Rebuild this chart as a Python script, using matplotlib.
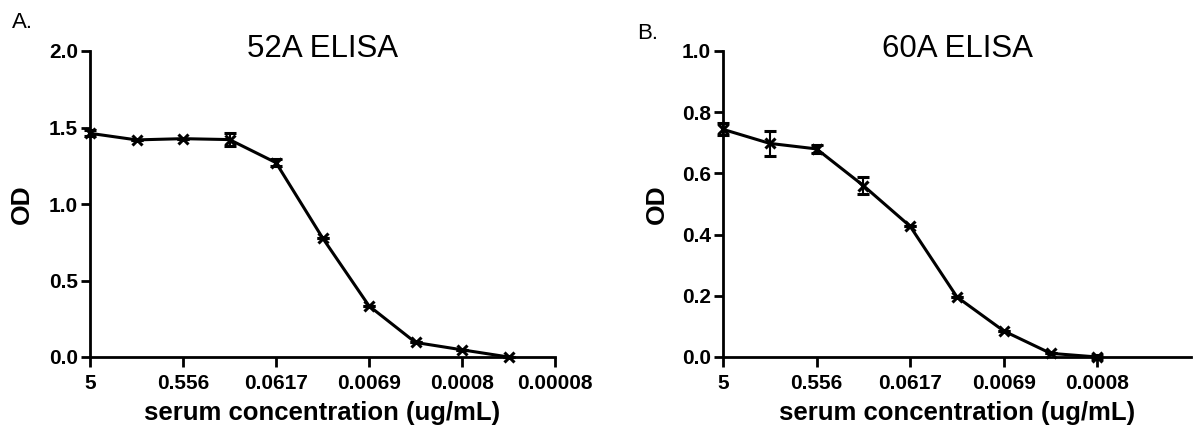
import matplotlib
matplotlib.use("Agg")
import matplotlib.pyplot as plt
import numpy as np

plt.rcParams['font.family'] = ['Liberation Sans', 'DejaVu Sans']

# Dilution steps (3-fold serial dilution), plotted by step index
tick_labels = ["5", "0.556", "0.0617", "0.0069", "0.0008", "0.00008"]

# Panel A: 52A ELISA
a_steps = [0, 1, 2, 3, 4, 5, 6, 7, 8, 9]
a_od = [1.462, 1.419, 1.427, 1.421, 1.27, 0.779, 0.334, 0.095, 0.047, 0.0]
a_err = [0.02, 0.0, 0.0, 0.04, 0.022, 0.0, 0.0, 0.0, 0.0, 0.0]

# Panel B: 60A ELISA
b_steps = [0, 1, 2, 3, 4, 5, 6, 7, 8]
b_od = [0.744, 0.698, 0.680, 0.560, 0.427, 0.196, 0.085, 0.012, 0.0]
b_err = [0.02, 0.042, 0.012, 0.027, 0.0, 0.0, 0.0, 0.0, 0.006]

fig = plt.figure(figsize=(12, 4.47), dpi=100)
axA = fig.add_axes([90/1200, 1-357/447, 465/1200, 306/447])
axB = fig.add_axes([723/1200, 1-357/447, 468/1200, 306/447])


def draw(ax, steps, od, err, ymax, yticks, xticks, xlabels, title):
    ax.errorbar(steps, od, yerr=err, color='black', lw=2.2,
                marker='x', ms=7, mew=2.2, capsize=4.5, capthick=1.5,
                elinewidth=1.5, clip_on=False, zorder=3)
    ax.set_xlim(0, 10)
    ax.set_ylim(0, ymax)
    for s in ['top', 'right']:
        ax.spines[s].set_visible(False)
    for s in ['left', 'bottom']:
        ax.spines[s].set_linewidth(2.0)
    ax.set_yticks(yticks)
    ax.set_yticklabels([f"{v:.1f}" for v in yticks])
    ax.set_xticks(xticks)
    ax.set_xticklabels(xlabels)
    ax.tick_params(axis='both', direction='out', width=2.0, labelsize=15)
    ax.tick_params(axis='x', length=7, pad=5)
    ax.tick_params(axis='y', length=6.5, pad=2)
    for lab in ax.get_xticklabels() + ax.get_yticklabels():
        lab.set_fontweight('bold')
    ax.set_xlabel("serum concentration (ug/mL)", fontsize=18.5, fontweight='bold')
    ax.set_ylabel("OD", fontsize=19, fontweight='bold')
    ax.xaxis.set_label_coords(0.5, -0.145)
    ax.text(0.5, (357 - 57) / 306, title, transform=ax.transAxes,
            ha='center', va='baseline', fontsize=22.5)


draw(axA, a_steps, a_od, a_err, 2.0, [0.0, 0.5, 1.0, 1.5, 2.0],
     [0, 2, 4, 6, 8, 10], tick_labels, "52A ELISA")
draw(axB, b_steps, b_od, b_err, 1.0, [0.0, 0.2, 0.4, 0.6, 0.8, 1.0],
     [0, 2, 4, 6, 8], tick_labels[:5], "60A ELISA")
axA.yaxis.set_label_coords(-0.121, 0.5)
axB.yaxis.set_label_coords(-0.115, 0.5)

fig.text(12/1200, 1-28/447, "A.", fontsize=16, ha='left', va='baseline')
fig.text(637/1200, 1-39/447, "B.", fontsize=16, ha='left', va='baseline')

fig.savefig("out.png", dpi=100, facecolor='white')
